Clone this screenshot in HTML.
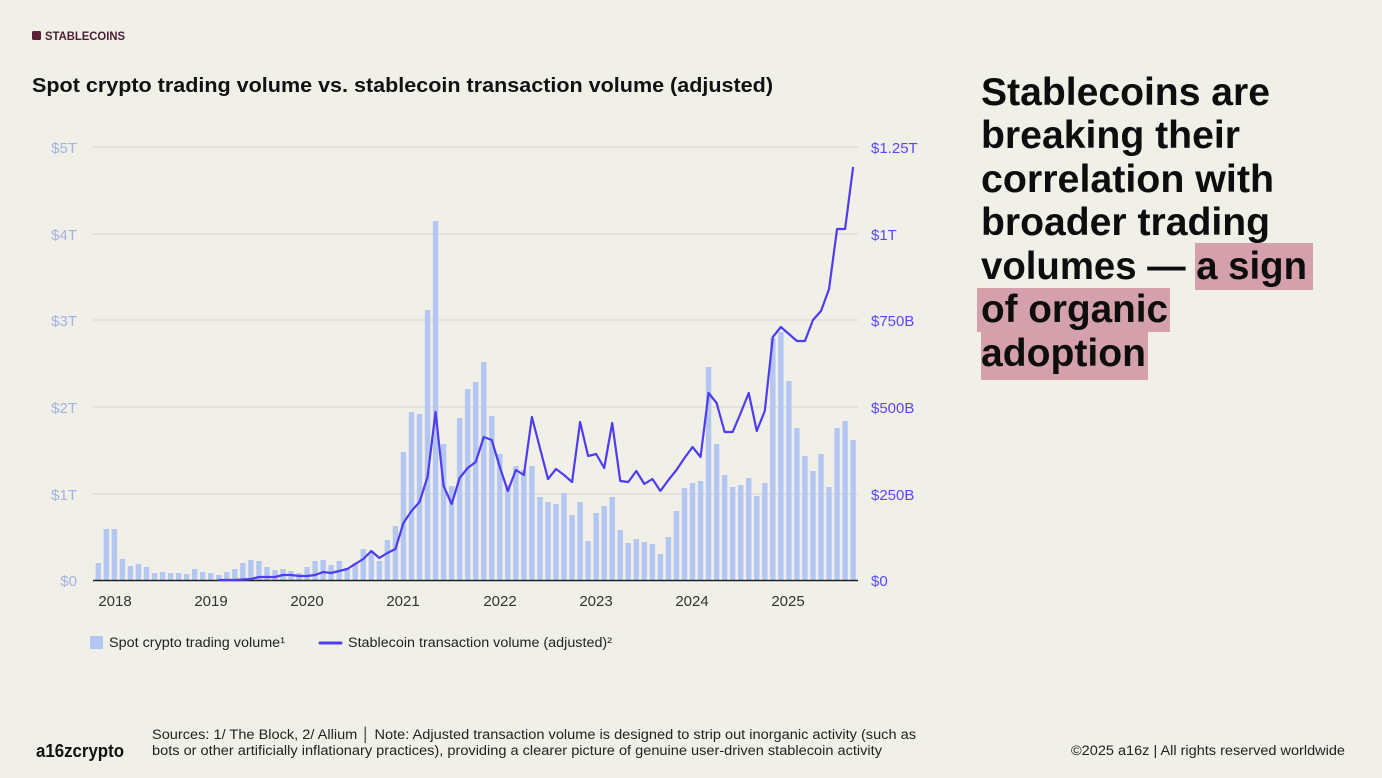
<!DOCTYPE html>
<html><head><meta charset="utf-8"><style>
html,body{margin:0;padding:0;background:#f0efe8;}
svg{display:block}
text{font-family:"Liberation Sans",sans-serif}
</style></head><body>
<svg id="s" width="1382" height="778" viewBox="0 0 1382 778" xmlns="http://www.w3.org/2000/svg">
<rect width="1382" height="778" fill="#f0efe8"/>
<rect x="32" y="31" width="9" height="9" rx="1.5" fill="#5c1f3a"/>
<text x="45" y="40" font-size="11.5" font-weight="bold" fill="#4a1f33" textLength="80" lengthAdjust="spacingAndGlyphs">STABLECOINS</text>
<text x="32" y="92" font-size="20" font-weight="bold" fill="#111" textLength="741" lengthAdjust="spacingAndGlyphs">Spot crypto trading volume vs. stablecoin transaction volume (adjusted)</text>
<g stroke="#d6d4cc" stroke-width="1">
<line x1="93" y1="147" x2="858" y2="147"/><line x1="93" y1="234" x2="858" y2="234"/><line x1="93" y1="320" x2="858" y2="320"/><line x1="93" y1="407" x2="858" y2="407"/><line x1="93" y1="494" x2="858" y2="494"/>
</g>
<g font-size="15" fill="#a3b3e0" text-anchor="end">
<text x="77" y="153">$5T</text><text x="77" y="240">$4T</text><text x="77" y="326">$3T</text><text x="77" y="413">$2T</text><text x="77" y="500">$1T</text><text x="77" y="586">$0</text>
</g>
<g font-size="15" fill="#5a48f5">
<text x="871" y="153">$1.25T</text><text x="871" y="240">$1T</text><text x="871" y="326">$750B</text><text x="871" y="413">$500B</text><text x="871" y="500">$250B</text><text x="871" y="586">$0</text>
</g>
<g id="bars" fill="#b4c6f2"></g>
<line x1="93" y1="580.5" x2="858" y2="580.5" stroke="#222" stroke-width="1.5"/>
<polyline id="ln" fill="none" stroke="#4f3cf0" stroke-width="2.2" stroke-linejoin="round"/>
<g font-size="15" fill="#333" text-anchor="middle">
<text x="115" y="586" dy="20">2018</text><text x="211" y="606">2019</text><text x="307" y="606">2020</text><text x="403" y="606">2021</text><text x="500" y="606">2022</text><text x="596" y="606">2023</text><text x="692" y="606">2024</text><text x="788" y="606">2025</text>
</g>
<rect x="90" y="636" width="13" height="13" fill="#b4c6f2"/>
<text x="109" y="647" font-size="13.5" fill="#222" textLength="176" lengthAdjust="spacingAndGlyphs">Spot crypto trading volume¹</text>
<line x1="320" y1="643" x2="341" y2="643" stroke="#4f3cf0" stroke-width="3" stroke-linecap="round"/>
<text x="348" y="647" font-size="13.5" fill="#222" textLength="264" lengthAdjust="spacingAndGlyphs">Stablecoin transaction volume (adjusted)²</text>
<rect x="1195" y="243" width="118" height="47" fill="#d4a0ab"/>
<rect x="977" y="288" width="193" height="44" fill="#d4a0ab"/>
<rect x="981" y="332" width="167" height="48" fill="#d4a0ab"/>
<g font-size="39" font-weight="bold" fill="#0d0d0d">
<text x="981" y="105" textLength="289" lengthAdjust="spacingAndGlyphs">Stablecoins are</text>
<text x="981" y="148" textLength="259" lengthAdjust="spacingAndGlyphs">breaking their</text>
<text x="981" y="192" textLength="293" lengthAdjust="spacingAndGlyphs">correlation with</text>
<text x="981" y="235" textLength="289" lengthAdjust="spacingAndGlyphs">broader trading</text>
<text x="981" y="279" textLength="326" lengthAdjust="spacingAndGlyphs">volumes — a sign</text>
<text x="981" y="322" textLength="187" lengthAdjust="spacingAndGlyphs">of organic</text>
<text x="981" y="366" textLength="165" lengthAdjust="spacingAndGlyphs">adoption</text>
</g>
<text x="36" y="757" font-size="18" font-weight="bold" fill="#111" textLength="88" lengthAdjust="spacingAndGlyphs">a16zcrypto</text>
<g font-size="13.5" fill="#222">
<text x="152" y="739" textLength="764" lengthAdjust="spacingAndGlyphs">Sources: 1/ The Block, 2/ Allium  │  Note: Adjusted transaction volume is designed to strip out inorganic activity (such as</text>
<text x="152" y="755" textLength="730" lengthAdjust="spacingAndGlyphs">bots or other artificially inflationary practices), providing a clearer picture of genuine user-driven stablecoin activity</text>
<text x="1071" y="755" textLength="274" lengthAdjust="spacingAndGlyphs">©2025 a16z | All rights reserved worldwide</text>
</g>
</svg>
<script>
var b=[563,529,529,559,566,564,567,573,572,573,573,574,569,572,573,575,572,569,563,560,561,567,570,569,571,573,567,561,560,565,561,568,563,549,552,561,540,526,452,412,414,310,221,444,486,418,389,382,362,416,454,485,466,470,466,497,502,504,493,515,502,541,513,506,497,530,543,539,542,544,554,537,511,488,483,481,367,444,475,487,485,478,496,483,338,332,381,428,456,471,454,487,428,421,440];
var l=[580,580,580,579.5,579,577,577,577,575,575,576,576,575,572,573,571,569,564,559,551,558,553,549,523,511,502,477,412,486,504,478,468,462,437,440,467,491,470,475,417,448,479,469,475,482,422,456,454,468,423,481,482,471,484,479,491,480,470,458,447,457,393,403,432,432,413,393,431,411,337,327,334,341,341,320,311,289,229,229,167];
var g=document.getElementById('bars'),h='';
for(var i=0;i<b.length;i++){var x=98.3+8.03*i;h+='<rect x="'+(x-2.7).toFixed(2)+'" y="'+b[i]+'" width="5.4" height="'+(580-b[i])+'"/>';}
g.innerHTML=h;
var p=[];for(var j=0;j<l.length;j++){p.push((98.3+8.03*(j+15)).toFixed(2)+','+l[j]);}
document.getElementById('ln').setAttribute('points',p.join(' '));
</script>
</body></html>
